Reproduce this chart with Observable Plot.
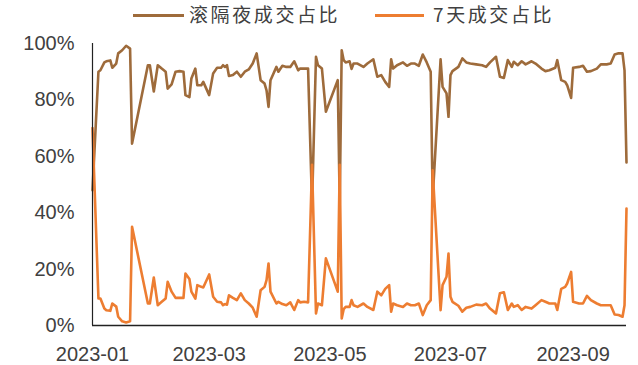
<!DOCTYPE html>
<html>
<head>
<meta charset="utf-8">
<script src="https://cdn.jsdelivr.net/npm/d3@7"></script>
<script src="https://cdn.jsdelivr.net/npm/@observablehq/plot@0.6"></script>
<style>
  html, body { margin: 0; padding: 0; background: #fff; }
  #wrap { width: 638px; height: 365px; position: relative; overflow: hidden; }
  #legend { position: relative; width: 638px; height: 30px; font-family: "Noto Sans CJK SC", "Liberation Sans", sans-serif; color: #404040; }
  .sw { position: absolute; top: 14px; height: 3px; }
  .lt { position: absolute; top: 2px; font-size: 19px; line-height: 24px; letter-spacing: 2.6px; white-space: nowrap; }
  #chart svg { display: block; }
</style>
</head>
<body>
<div id="wrap">
  <div id="legend"></div>
  <div id="chart"></div>
</div>
<script>
const seriesNames = ["滚隔夜成交占比", "7天成交占比"];
const seriesColors = ["#9E6B3B", "#ED7D31"];

const dates = [
"2023-01-01","2023-01-04","2023-01-05","2023-01-07","2023-01-08","2023-01-10","2023-01-11","2023-01-13","2023-01-14","2023-01-16",
"2023-01-18","2023-01-20","2023-01-21","2023-01-29","2023-01-30","2023-02-01","2023-02-03","2023-02-05","2023-02-07","2023-02-08",
"2023-02-10","2023-02-12","2023-02-14","2023-02-16","2023-02-17","2023-02-19","2023-02-20","2023-02-22","2023-02-23","2023-02-25",
"2023-02-26","2023-03-01","2023-03-03","2023-03-05","2023-03-07","2023-03-08","2023-03-09","2023-03-10","2023-03-11","2023-03-13",
"2023-03-15","2023-03-17","2023-03-19","2023-03-21","2023-03-23","2023-03-25","2023-03-27","2023-03-29","2023-03-30","2023-03-31",
"2023-04-01","2023-04-04","2023-04-05","2023-04-07","2023-04-09","2023-04-11","2023-04-13","2023-04-15","2023-04-16","2023-04-18",
"2023-04-20","2023-04-22","2023-04-24","2023-04-25","2023-04-27","2023-04-29","2023-05-05","2023-05-06","2023-05-07","2023-05-08",
"2023-05-09","2023-05-11","2023-05-12","2023-05-13","2023-05-15","2023-05-18","2023-05-20","2023-05-23","2023-05-25","2023-05-27",
"2023-05-29","2023-05-31","2023-06-01","2023-06-02","2023-06-04","2023-06-07","2023-06-09","2023-06-11","2023-06-13","2023-06-15",
"2023-06-17","2023-06-19","2023-06-21","2023-06-22","2023-06-26","2023-06-27","2023-06-29","2023-06-30","2023-07-01","2023-07-02",
"2023-07-05","2023-07-07","2023-07-09","2023-07-11","2023-07-14","2023-07-17","2023-07-19","2023-07-21","2023-07-24","2023-07-26",
"2023-07-28","2023-07-30","2023-08-01","2023-08-02","2023-08-04","2023-08-06","2023-08-08","2023-08-11","2023-08-13","2023-08-16",
"2023-08-18","2023-08-20","2023-08-23","2023-08-24","2023-08-26","2023-08-28","2023-08-29","2023-08-31","2023-09-01","2023-09-04",
"2023-09-06","2023-09-08","2023-09-10","2023-09-13","2023-09-15","2023-09-18","2023-09-20","2023-09-22","2023-09-24","2023-09-26",
"2023-09-27","2023-09-28"
];

const overnight = [
48.0,90.0,90.5,93.3,93.7,94.0,91.4,92.9,96.5,97.6,
99.2,98.2,64.5,92.3,92.3,83.0,92.3,91.1,90.0,84.0,
85.5,90.0,90.2,90.0,81.7,81.0,87.6,91.1,85.2,85.2,
86.4,81.7,89.4,91.4,91.4,92.3,91.7,92.3,88.5,88.8,
90.0,88.2,90.0,90.8,92.9,96.5,87.0,85.8,83.4,77.5,
87.0,91.7,90.0,92.1,91.7,91.7,93.7,90.5,91.1,91.1,
91.1,43.0,95.3,92.3,91.1,75.8,87.0,43.0,97.6,94.1,
93.3,93.7,91.0,92.9,92.9,91.7,92.9,94.4,88.2,88.8,
86.4,84.6,94.4,91.1,92.3,93.3,92.1,92.9,92.9,92.1,
96.1,93.3,90.0,45.0,94.4,84.6,82.3,74.0,88.8,90.2,
91.7,94.7,93.3,92.9,92.6,92.3,91.7,93.3,95.3,88.2,
87.8,94.1,91.7,93.5,92.3,93.7,92.6,93.7,92.9,91.1,
90.2,90.5,91.4,94.1,87.0,86.4,85.2,80.7,91.4,91.7,
92.1,90.0,90.2,91.1,92.6,92.6,92.9,96.1,96.5,96.5,
90.5,57.8
];

const sevenDay = [
70.0,9.6,9.6,6.0,5.4,5.2,7.8,6.7,3.1,1.5,
1.1,1.5,35.0,7.8,7.8,17.0,7.2,8.4,9.6,15.5,
12.0,9.8,9.8,9.8,18.4,16.5,12.0,9.5,14.3,13.7,
13.5,18.1,10.2,8.4,8.2,7.2,7.6,7.4,10.7,9.8,
9.0,11.4,9.0,7.8,6.3,3.1,12.5,13.7,16.1,22.0,
12.0,7.8,8.4,7.6,7.2,8.2,5.5,9.0,8.2,8.4,
8.2,57.0,4.3,7.8,7.2,23.8,12.0,57.0,2.5,5.8,
6.6,6.6,9.0,7.2,6.6,7.8,6.6,5.5,12.0,10.7,
13.0,14.3,4.9,7.8,7.2,6.6,7.8,7.2,7.2,7.8,
3.7,7.2,9.0,55.0,5.4,14.3,17.3,25.5,10.2,8.4,
7.0,4.9,6.3,6.6,7.4,7.2,7.8,6.0,4.3,11.4,
11.8,5.5,7.8,6.6,7.2,5.5,6.6,6.0,7.2,9.0,
8.4,7.8,7.8,5.5,13.0,13.7,14.9,19.0,8.4,7.8,
7.8,10.5,9.0,7.8,7.2,7.2,7.2,3.9,3.7,3.1,
7.2,41.5
];

const xTickDates = ["2023-01-01","2023-03-01","2023-05-01","2023-07-01","2023-09-01"];
const yTicks = [0, 20, 40, 60, 80, 100];
const xDomain = ["2023-01-01", "2023-09-28"];

// legend (HTML, above the SVG)
const legend = document.getElementById("legend");
const legendPos = [{line: 133, w: 51, text: 189}, {line: 375, w: 49, text: 433}];
seriesNames.forEach((name, i) => {
  const sw = document.createElement("div");
  sw.className = "sw";
  sw.style.left = legendPos[i].line + "px";
  sw.style.width = legendPos[i].w + "px";
  sw.style.background = seriesColors[i];
  legend.appendChild(sw);
  const t = document.createElement("div");
  t.className = "lt";
  t.style.left = legendPos[i].text + "px";
  t.textContent = name;
  legend.appendChild(t);
});

const rows = dates.map((d, i) => ({date: new Date(d), overnight: overnight[i], sevenDay: sevenDay[i]}));
const x0 = new Date(xDomain[0]);

const chart = Plot.plot({
  width: 638,
  height: 335,
  marginLeft: 92,
  marginRight: 12,
  marginTop: 13,
  marginBottom: 40,
  style: {fontSize: "20px", fontFamily: "'Liberation Sans', Arial, sans-serif", color: "#404040", background: "#fff"},
  x: {type: "utc", domain: xDomain.map(d => new Date(d))},
  y: {domain: [0, 100]},
  marks: [
    Plot.axisX({ticks: xTickDates.map(d => new Date(d)), tickFormat: d3.utcFormat("%Y-%m"), tickSize: 0, tickPadding: 21, label: null, fill: "#404040"}),
    Plot.axisY({ticks: yTicks, tickFormat: d => d + "%", tickSize: 0, tickPadding: 18, label: null, fill: "#404040"}),
    Plot.lineY(rows, {x: "date", y: "overnight", stroke: seriesColors[0], strokeWidth: 2.6, curve: "linear"}),
    Plot.lineY(rows, {x: "date", y: "sevenDay", stroke: seriesColors[1], strokeWidth: 2.6, curve: "linear"}),
    Plot.ruleX([x0], {y1: 0, y2: 100, stroke: "#222", strokeWidth: 1.2}),
    Plot.ruleY([0], {stroke: "#222", strokeWidth: 1.4})
  ]
});
document.getElementById("chart").appendChild(chart);
</script>
</body>
</html>
